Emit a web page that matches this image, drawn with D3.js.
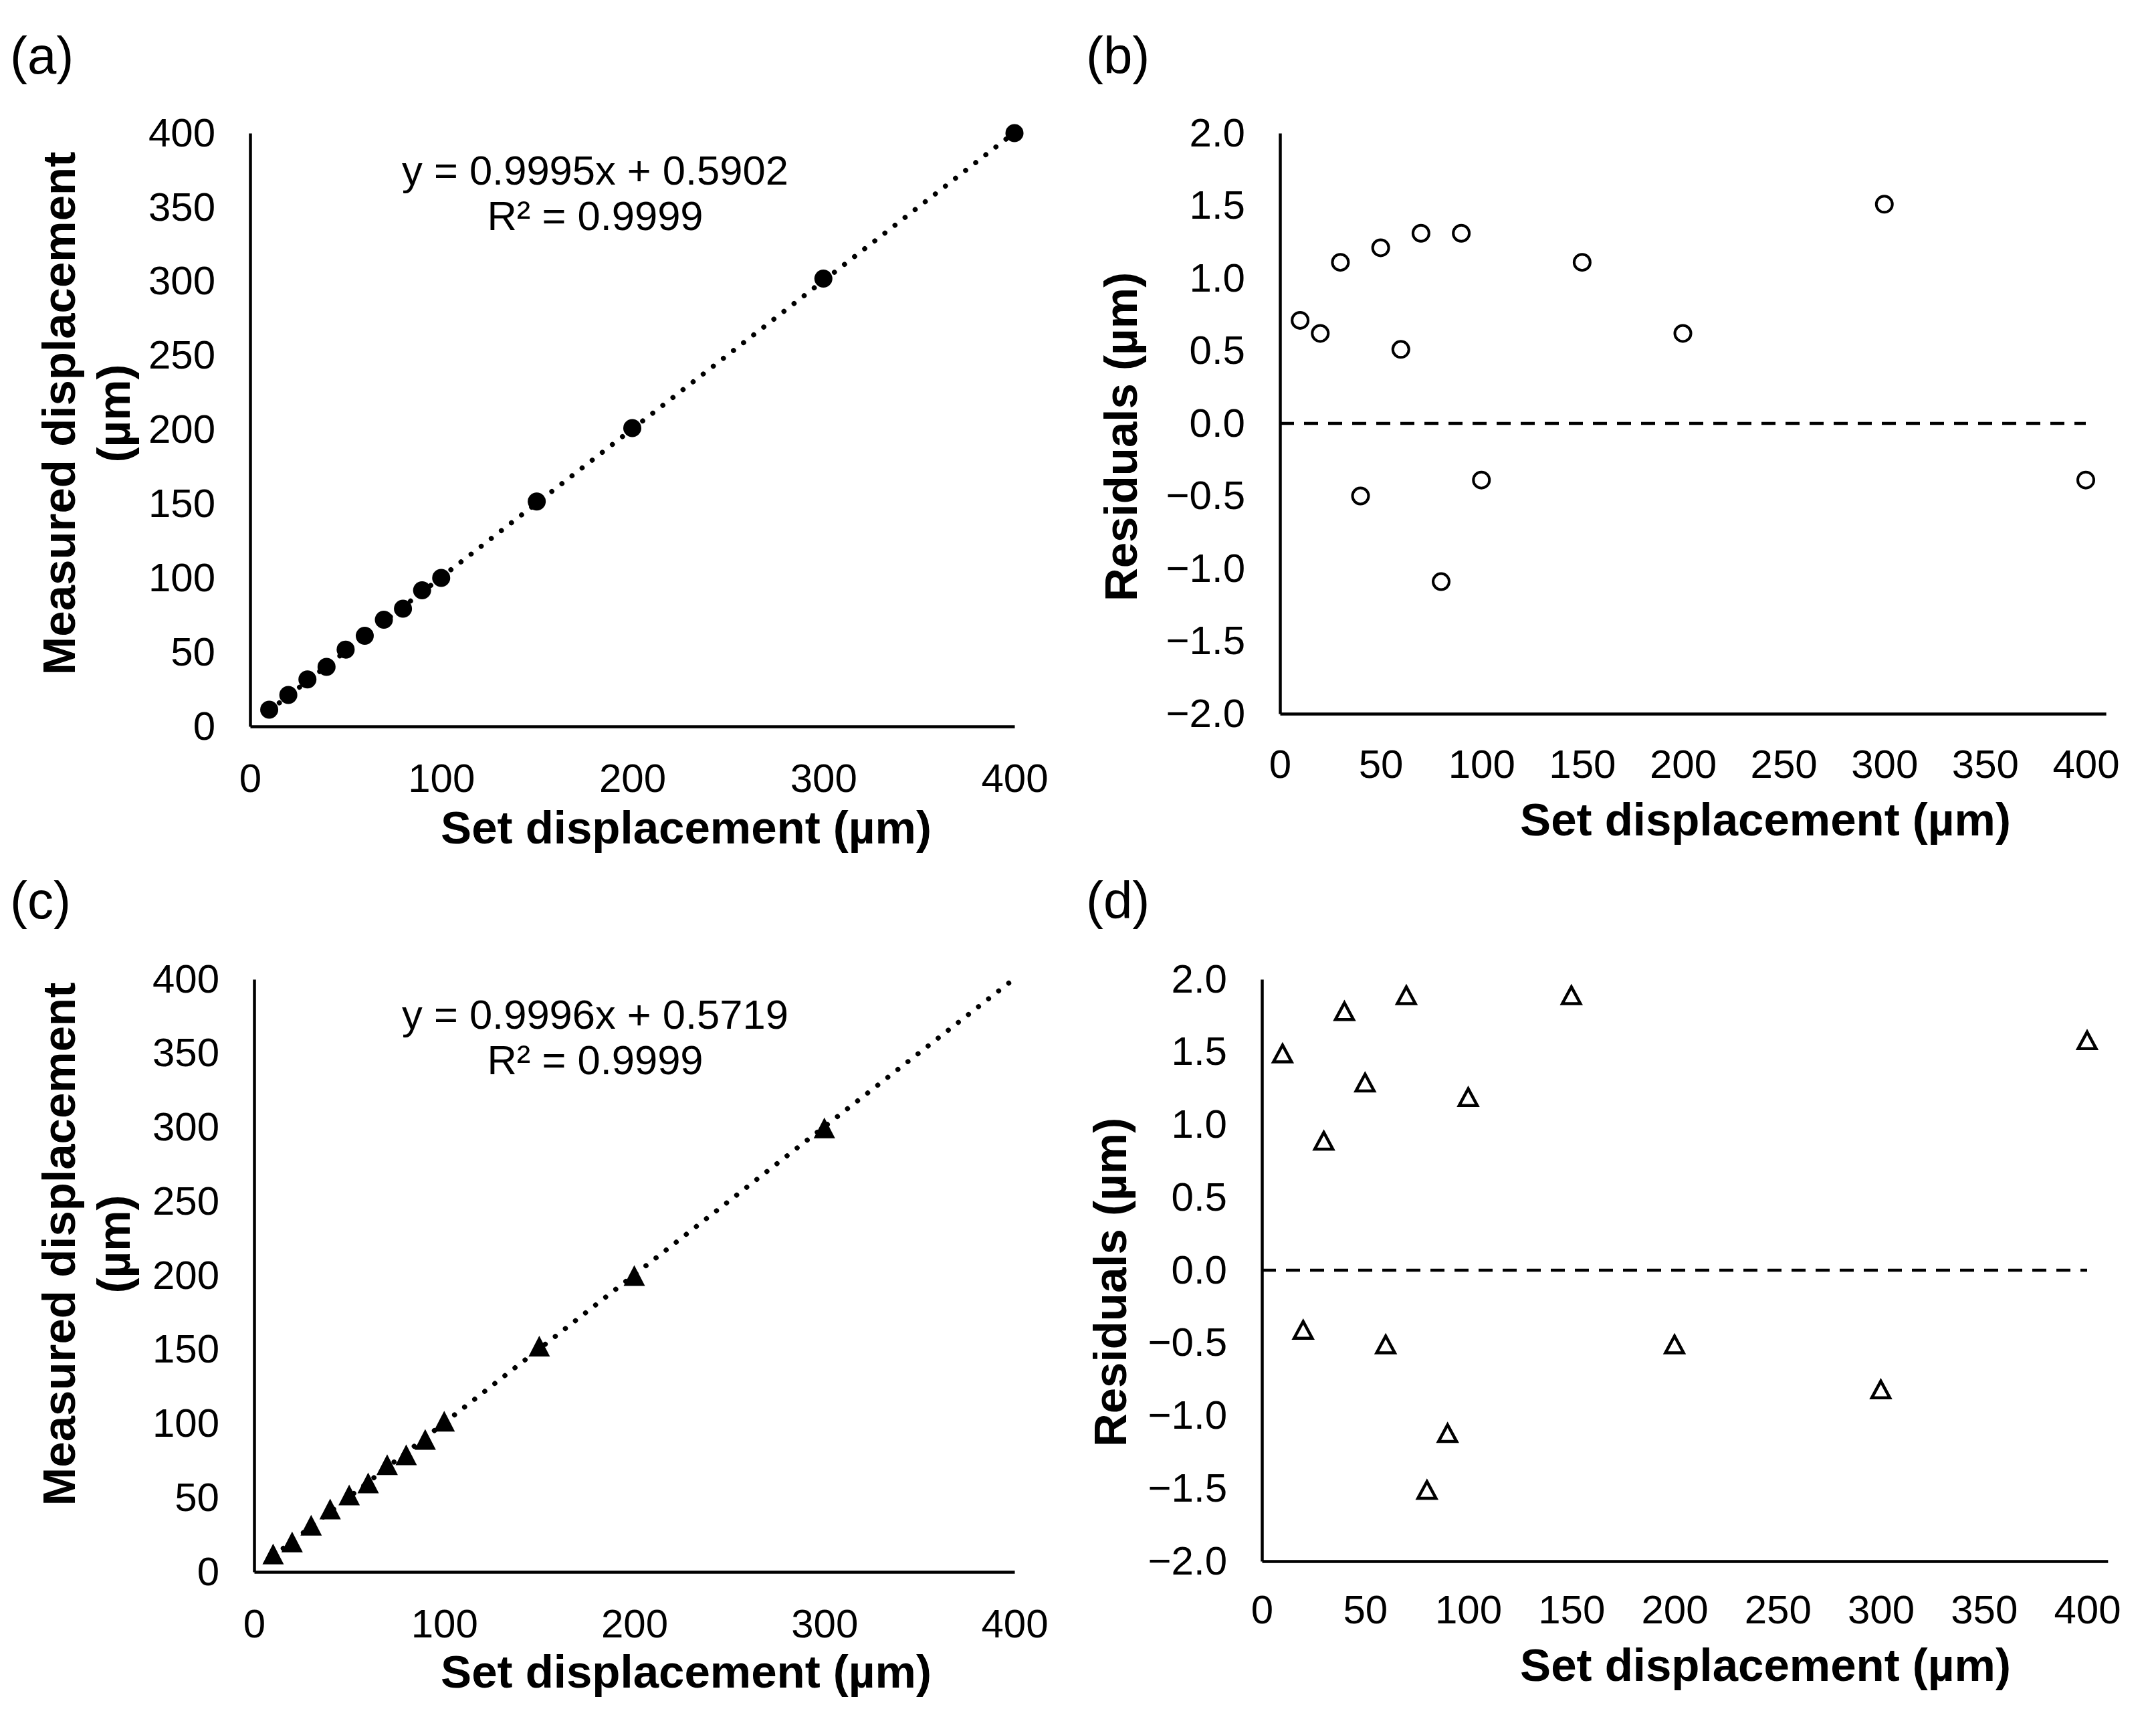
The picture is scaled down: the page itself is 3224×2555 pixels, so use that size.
<!DOCTYPE html>
<html>
<head>
<meta charset="utf-8">
<script src="https://cdn.jsdelivr.net/npm/d3@7"></script>
<style>
  html, body { margin: 0; padding: 0; background: #fff; }
  text { font-family: "Liberation Sans", Arial, sans-serif; fill: #000; }
</style>
</head>
<body>
<svg id="chart" width="3224" height="2555"></svg>
<script>
// ---------------- data ----------------
const setDisp = [10, 20, 30, 40, 50, 60, 70, 80, 90, 100, 150, 200, 300, 400];
const measuredA = [11.3, 21.2, 31.7, 40.1, 51.8, 61.1, 71.9, 79.4, 91.8, 100.1, 151.6, 201.1, 301.9, 400.0];
const residualsB = [0.71, 0.62, 1.11, -0.50, 1.21, 0.51, 1.31, -1.09, 1.31, -0.39, 1.11, 0.62, 1.51, -0.39];
const setDispC = [10, 20, 30, 40, 50, 60, 70, 80, 90, 100, 150, 200, 300];
const measuredC = [12.1, 20.2, 31.5, 42.4, 51.9, 60.1, 72.4, 79.0, 89.4, 101.7, 152.4, 200.0, 299.7];
const residualsD = [1.49, -0.41, 0.89, 1.78, 1.29, -0.51, 1.89, -1.51, -1.12, 1.19, 1.89, -0.51, -0.82, 1.58];
const fitA = { slope: 0.9995, intercept: 0.5902, label: "y = 0.9995x + 0.5902", r2: "R² = 0.9999" };
const fitC = { slope: 0.9996, intercept: 0.5719, label: "y = 0.9996x + 0.5719", r2: "R² = 0.9999" };
const fitTicks = [0, 100, 200, 300, 400];
const fitYTicks = [0, 50, 100, 150, 200, 250, 300, 350, 400];
const resXTicks = [0, 50, 100, 150, 200, 250, 300, 350, 400];
const resYTicks = [-2.0, -1.5, -1.0, -0.5, 0.0, 0.5, 1.0, 1.5, 2.0];
const panelLabels = ["(a)", "(b)", "(c)", "(d)"];
const xTitle = "Set displacement (µm)";
const yTitleFit = ["Measured displacement", "(µm)"];
const yTitleRes = "Residuals (µm)";

// ---------------- drawing ----------------
const svg = d3.select("#chart");
const TICK_FS = 60, TITLE_FS = 69, LABEL_FS = 78, EQ_FS = 61.5;

function styleAxis(g) {
  g.select(".domain").attr("stroke", "#000").attr("stroke-width", 4.5);
  g.selectAll(".tick line").remove();
  g.selectAll(".tick text").style("font-size", TICK_FS + "px").attr("fill", "#000")
    .style("font-family", '"Liberation Sans", Arial, sans-serif');
}

function triPath(w, h) {
  return `M0,${-h / 2}L${w / 2},${h / 2}L${-w / 2},${h / 2}Z`;
}

function fitPanel(opt) {
  const x = d3.scaleLinear().domain([0, 400]).range([opt.x0, opt.x1]);
  const y = d3.scaleLinear().domain([0, 400]).range([opt.y0, opt.y1]);
  const g = svg.append("g");
  g.append("g").attr("transform", `translate(0,${opt.y0})`)
    .call(d3.axisBottom(x).tickValues(fitTicks).tickSize(0).tickSizeOuter(0).tickPadding(opt.xPad))
    .call(styleAxis);
  g.append("g").attr("transform", `translate(${opt.x0},0)`)
    .call(d3.axisLeft(y).tickValues(fitYTicks).tickSize(0).tickSizeOuter(0).tickPadding(52))
    .call(styleAxis);
  // trendline (dotted)
  const xs = [d3.min(opt.xs), d3.max(setDisp)];
  g.append("path")
    .attr("d", d3.line().x(d => x(d)).y(d => y(opt.fit.slope * d + opt.fit.intercept))(xs))
    .attr("fill", "none").attr("stroke", "#000").attr("stroke-width", 7.5)
    .attr("stroke-linecap", "round").attr("stroke-dasharray", "0.1 19");
  // markers
  const pts = opt.xs.map((v, i) => [v, opt.ys[i]]);
  if (opt.marker === "circle") {
    g.selectAll("circle.pt").data(pts).join("circle").attr("class", "pt")
      .attr("cx", d => x(d[0])).attr("cy", d => y(d[1])).attr("r", 13.5).attr("fill", "#000");
  } else {
    g.selectAll("path.pt").data(pts).join("path").attr("class", "pt")
      .attr("transform", d => `translate(${x(d[0])},${y(d[1])})`)
      .attr("d", triPath(32, 31)).attr("fill", "#000");
  }
  // equation
  g.append("text").attr("x", opt.eqX).attr("y", opt.eqY).attr("text-anchor", "middle")
    .style("font-size", EQ_FS + "px").text(opt.fit.label);
  g.append("text").attr("x", opt.eqX).attr("y", opt.eqY + 68).attr("text-anchor", "middle")
    .style("font-size", EQ_FS + "px").text(opt.fit.r2);
  // titles
  g.append("text").attr("x", opt.xTitleX).attr("y", opt.xTitleY).attr("text-anchor", "middle")
    .style("font-size", TITLE_FS + "px").style("font-weight", "bold").text(xTitle);
  g.append("text").attr("transform", `translate(${opt.yT1},${opt.yTitleC}) rotate(-90)`)
    .attr("text-anchor", "middle").style("font-size", TITLE_FS + "px").style("font-weight", "bold")
    .text(yTitleFit[0]);
  g.append("text").attr("transform", `translate(${opt.yT2},${opt.yTitleC}) rotate(-90)`)
    .attr("text-anchor", "middle").style("font-size", TITLE_FS + "px").style("font-weight", "bold")
    .text(yTitleFit[1]);
  g.append("text").attr("x", opt.labX).attr("y", opt.labY).style("font-size", LABEL_FS + "px").text(opt.label);
}

function resPanel(opt) {
  const x = d3.scaleLinear().domain([0, 410]).range([opt.x0, opt.x0 + (opt.x400 - opt.x0) * 410 / 400]);
  const y = d3.scaleLinear().domain([-2, 2]).range([opt.y0, opt.y1]);
  const g = svg.append("g");
  g.append("g").attr("transform", `translate(0,${opt.y0})`)
    .call(d3.axisBottom(x).tickValues(resXTicks).tickSize(0).tickSizeOuter(0).tickPadding(opt.xPad))
    .call(styleAxis);
  g.append("g").attr("transform", `translate(${opt.x0},0)`)
    .call(d3.axisLeft(y).tickValues(resYTicks).tickFormat(d3.format(".1f")).tickSize(0).tickSizeOuter(0).tickPadding(52))
    .call(styleAxis);
  // zero line
  g.append("path")
    .attr("d", d3.line().x(d => x(d)).y(() => y(0))([0, 400]))
    .attr("fill", "none").attr("stroke", "#000").attr("stroke-width", 4.5)
    .attr("stroke-dasharray", "21 15");
  const pts = setDisp.map((v, i) => [v, opt.res[i]]);
  if (opt.marker === "circle") {
    g.selectAll("circle.pt").data(pts).join("circle").attr("class", "pt")
      .attr("cx", d => x(d[0])).attr("cy", d => y(d[1])).attr("r", 12)
      .attr("fill", "#fff").attr("stroke", "#000").attr("stroke-width", 4);
  } else {
    g.selectAll("path.pt").data(pts).join("path").attr("class", "pt")
      .attr("transform", d => `translate(${x(d[0])},${y(d[1])})`)
      .attr("d", triPath(27, 25)).attr("fill", "#fff").attr("stroke", "#000").attr("stroke-width", 4.5)
      .attr("stroke-linejoin", "miter");
  }
  g.append("text").attr("x", opt.xTitleX).attr("y", opt.xTitleY).attr("text-anchor", "middle")
    .style("font-size", TITLE_FS + "px").style("font-weight", "bold").text(xTitle);
  g.append("text").attr("transform", `translate(${opt.yT},${opt.yTitleC}) rotate(-90)`)
    .attr("text-anchor", "middle").style("font-size", TITLE_FS + "px").style("font-weight", "bold")
    .text(yTitleRes);
  g.append("text").attr("x", opt.labX).attr("y", opt.labY).style("font-size", LABEL_FS + "px").text(opt.label);
}

fitPanel({
  x0: 374, x1: 1517, y0: 1086, y1: 199, xPad: 55,
  xs: setDisp, ys: measuredA, fit: fitA, marker: "circle",
  eqX: 890, eqY: 276, xTitleX: 1026, xTitleY: 1261,
  yT1: 112, yT2: 194, yTitleC: 618, labX: 15, labY: 110, label: panelLabels[0]
});
resPanel({
  x0: 1914, x400: 3119, y0: 1067, y1: 199, xPad: 53,
  res: residualsB, marker: "circle",
  xTitleX: 2640, xTitleY: 1249, yT: 1700, yTitleC: 653, labX: 1624, labY: 110, label: panelLabels[1]
});
fitPanel({
  x0: 380, x1: 1517, y0: 2350, y1: 1464, xPad: 55,
  xs: setDispC, ys: measuredC, fit: fitC, marker: "triangle",
  eqX: 890, eqY: 1538, xTitleX: 1026, xTitleY: 2523,
  yT1: 112, yT2: 194, yTitleC: 1860, labX: 15, labY: 1373, label: panelLabels[2]
});
resPanel({
  x0: 1887, x400: 3121, y0: 2334, y1: 1464, xPad: 50,
  res: residualsD, marker: "triangle",
  xTitleX: 2640, xTitleY: 2513, yT: 1684, yTitleC: 1917, labX: 1624, labY: 1373, label: panelLabels[3]
});
</script>
</body>
</html>
